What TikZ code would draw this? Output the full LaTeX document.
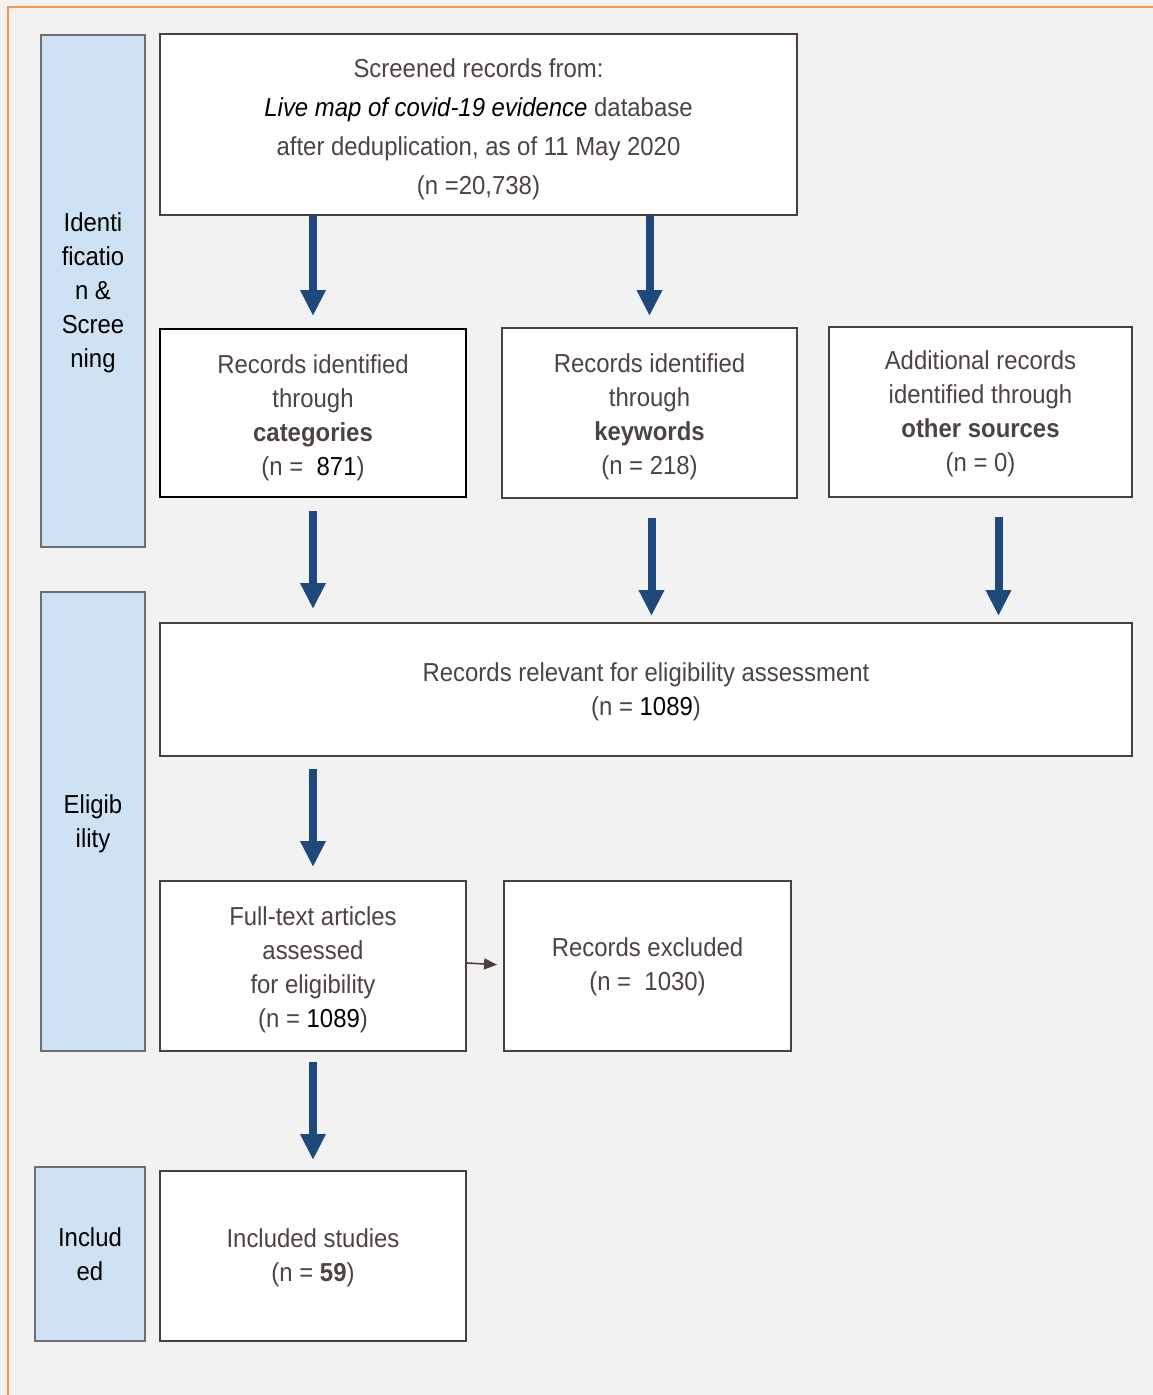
\documentclass[tikz,border=0pt]{standalone}
\usepackage{fontspec}
\setmainfont{Liberation Sans}[FakeStretch=0.92]
\usetikzlibrary{arrows.meta}
\definecolor{bg}{HTML}{F2F2F2}
\definecolor{orng}{HTML}{F79646}
\definecolor{sideblue}{HTML}{CFE2F3}
\definecolor{sidegray}{HTML}{6E6E6E}
\definecolor{boxline}{HTML}{4A3F3A}
\definecolor{txt}{HTML}{4D4441}
\definecolor{arrblue}{HTML}{1F497D}
\tikzset{
  sidebox/.style={draw=sidegray, line width=2pt, fill=sideblue, anchor=north west, inner sep=0pt},
  sidetext/.style={align=center, text=black, inner sep=0pt, font=\fontsize{26}{34}\selectfont},
  mainbox/.style={draw=boxline, line width=2pt, fill=white, anchor=north west, inner sep=0pt},
  maintext/.style={align=center, text=txt, inner sep=0pt, font=\fontsize{26}{34}\selectfont},
  bigarrow/.style={draw=arrblue, line width=8pt, -{Triangle[width=24pt,length=26pt]}, fill=arrblue},
  smallarrow/.style={draw=boxline, line width=1.6pt, -{Triangle[width=11pt,length=13pt]}, fill=boxline},
}
\begin{document}
\begin{tikzpicture}[x=1pt,y=-1pt]
\useasboundingbox (0,0) rectangle (1153,1395);
\fill[bg] (0,0) rectangle (1153,1395);
\draw[orng, line width=2.2pt] (8,1395) -- (8,7) -- (1153,7);

% side labels
\node[sidebox, minimum width=104pt, minimum height=512pt] (s1) at (40,34) {};
\node[sidetext] (s1t) at ([yshift=-1.5pt]s1.center) {Identi\\ficatio\\n \&\\Scree\\ning};
\node[sidebox, minimum width=104pt, minimum height=459pt] (s2) at (40,591) {};
\node[sidetext] (s2t) at ([yshift=-2.5pt]s2.center) {Eligib\\ility};
\node[sidebox, minimum width=110pt, minimum height=174pt] (s3) at (34,1166) {};
\node[sidetext] (s3t) at (s3.center) {Includ\\ed};

% main boxes
\node[mainbox, minimum width=637pt, minimum height=181pt] (top) at (159,33) {};
\node[maintext, font=\fontsize{26}{39}\selectfont] (topt) at ([yshift=-5pt]top.center)
  {Screened records from:\\{\color{black}\itshape Live map of covid-19 evidence} database\\after deduplication, as of 11 May 2020\\(n =20,738)};
\node[mainbox, draw=black, minimum width=306pt, minimum height=168pt] (cat) at (159,328) {};
\node[maintext] (catt) at ([yshift=-5pt]cat.center)
  {Records identified\\through\\\textbf{categories}\\(n =\ \ {\color{black}871})};
\node[mainbox, minimum width=295pt, minimum height=170pt] (key) at (501,327) {};
\node[maintext] (keyt) at ([yshift=-4pt]key.center)
  {Records identified\\through\\\textbf{keywords}\\(n = 218)};
\node[mainbox, minimum width=303pt, minimum height=170pt] (oth) at (828,326) {};
\node[maintext] (otht) at ([yshift=-2pt]oth.center)
  {Additional records\\identified through\\\textbf{other sources}\\(n = 0)};
\node[mainbox, minimum width=972pt, minimum height=133pt] (rel) at (159,622) {};
\node[maintext] (relt) at ([yshift=-2.5pt]rel.center)
  {Records relevant for eligibility assessment\\(n = {\color{black}1089})};
\node[mainbox, minimum width=306pt, minimum height=170pt] (full) at (159,880) {};
\node[maintext] (fullt) at ([yshift=-3.5pt]full.center)
  {Full-text articles\\assessed\\for eligibility\\(n = {\color{black}1089})};
\node[mainbox, minimum width=287pt, minimum height=170pt] (exc) at (503,880) {};
\node[maintext] (exct) at ([yshift=-1pt]exc.center)
  {Records excluded\\(n =\ \ 1030)};
\node[mainbox, minimum width=306pt, minimum height=170pt] (inc) at (159,1170) {};
\node[maintext] (inct) at ([yshift=-1.5pt]inc.center)
  {Included studies\\(n = \textbf{59})};

% arrows
\draw[bigarrow, shorten >=12pt] (top.south -| cat.north) -- (cat.north);
\draw[bigarrow, shorten >=11pt] (top.south -| key.north) -- (key.north);
\draw[bigarrow, shorten <=13pt, shorten >=13pt] (cat.south) -- (cat.south |- rel.north);
\draw[bigarrow, shorten <=19pt, shorten >=6pt] ([xshift=2pt]key.south) -- ([xshift=2pt]key.south |- rel.north);
\draw[bigarrow, shorten <=19pt, shorten >=6pt] ([xshift=18pt]oth.south) -- ([xshift=18pt]oth.south |- rel.north);
\draw[bigarrow, shorten <=12pt, shorten >=13pt] (rel.south -| full.north) -- (full.north);
\draw[bigarrow, shorten <=10pt, shorten >=10pt] (full.south) -- (inc.north);
\draw[smallarrow, shorten >=6pt] ([yshift=3pt]full.east) -- ([yshift=1pt]exc.west);
\end{tikzpicture}
\end{document}
